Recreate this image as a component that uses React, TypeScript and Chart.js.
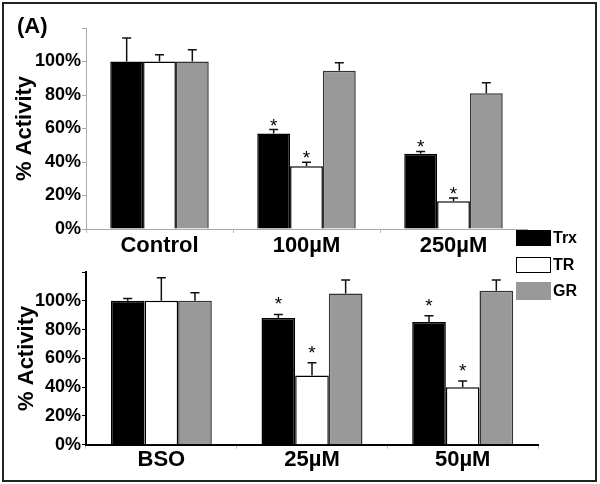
import React, { useEffect, useRef } from 'react';
import { Chart, registerables } from 'chart.js';

Chart.register(...registerables);

const FONT = '"Liberation Sans", Arial, sans-serif';

// Panel 1
const categoriesTop = ['Control', '100\u00B5M', '250\u00B5M'];
const trxTop = [100, 57, 45];
const trxTopErr = [14, 2.4, 1.3];
const trTop = [100, 37.5, 16.5];
const trTopErr = [4, 2.4, 2];
const grTop = [100, 94.5, 81];
const grTopErr = [7, 4.8, 6.3];
const trxTopSig = [false, true, true];
const trTopSig = [false, true, true];
const grTopSig = [false, false, false];

// Panel 2
const categoriesBottom = ['BSO', '25\u00B5M', '50\u00B5M'];
const trxBottom = [100, 88, 85.3];
const trxBottomErr = [1.6, 2.5, 4.3];
const trBottom = [100, 48, 40];
const trBottomErr = [16, 9, 4.3];
const grBottom = [100, 105, 107];
const grBottomErr = [5.5, 9.5, 7.5];
const trxBottomSig = [false, true, true];
const trBottomSig = [false, true, true];
const grBottomSig = [false, false, false];

const yMax = 120;
const yStep = 20;
const seriesNames = ['Trx', 'TR', 'GR'];
const GRAY = '#999999';

const errorBarPlugin = {
  id: 'errbars',
  afterDatasetsDraw(chart: any, _args: any, opts: any) {
    const { ctx } = chart;
    const y = chart.scales.y;
    chart.data.datasets.forEach((ds: any, di: number) => {
      const meta = chart.getDatasetMeta(di);
      const errs = opts.errors[di];
      const sig = opts.sig[di];
      meta.data.forEach((bar: any, i: number) => {
        const v = ds.data[i];
        const top = y.getPixelForValue(v + errs[i]);
        ctx.save();
        ctx.strokeStyle = '#111';
        ctx.lineWidth = 1.5;
        ctx.beginPath();
        ctx.moveTo(bar.x, bar.y);
        ctx.lineTo(bar.x, top);
        ctx.moveTo(bar.x - 4.5, top);
        ctx.lineTo(bar.x + 4.5, top);
        ctx.stroke();
        if (sig[i]) {
          ctx.fillStyle = '#000';
          ctx.font = `19px ${FONT}`;
          ctx.textAlign = 'center';
          ctx.textBaseline = 'alphabetic';
          ctx.fillText('*', bar.x, top - opts.starGap + 10);
        }
        ctx.restore();
      });
    });
  },
};

function makeConfig(p: {
  labels: string[];
  trx: number[];
  tr: number[];
  gr: number[];
  errors: number[][];
  sig: boolean[][];
  padding: any;
  xHeight: number;
  axisColor: string;
  axisWidth: number;
  titlePad: number;
  starGap: number;
  tickPadX: number;
}) {
  return {
    type: 'bar' as const,
    data: {
      labels: p.labels,
      datasets: [
        { label: seriesNames[0], data: p.trx, backgroundColor: '#000', borderColor: '#000', borderWidth: 1.5 },
        { label: seriesNames[1], data: p.tr, backgroundColor: '#fff', borderColor: '#000', borderWidth: 1.5 },
        { label: seriesNames[2], data: p.gr, backgroundColor: GRAY, borderColor: '#333', borderWidth: 1.5 },
      ],
    },
    options: {
      responsive: false,
      animation: false as const,
      layout: { padding: p.padding },
      datasets: { bar: { categoryPercentage: 0.67, barPercentage: 1.0 } },
      plugins: {
        legend: { display: false },
        tooltip: { enabled: false },
        errbars: { errors: p.errors, sig: p.sig, starGap: p.starGap },
      },
      scales: {
        x: {
          border: { display: true, color: p.axisColor, width: p.axisWidth },
          grid: { display: true, drawOnChartArea: false, drawTicks: true, tickLength: 4, color: '#bbb', offset: true },
          ticks: { color: '#000', font: { family: FONT, size: 22, weight: 'bold' }, padding: p.tickPadX, maxRotation: 0 },
          afterFit(axis: any) { axis.height = p.xHeight; },
        },
        y: {
          min: 0,
          max: yMax,
          border: { display: true, color: p.axisColor, width: p.axisWidth },
          grid: { display: true, drawOnChartArea: false, drawTicks: true, tickLength: 4, color: p.axisColor },
          ticks: {
            stepSize: yStep,
            color: '#000',
            padding: 1,
            font: { family: FONT, size: 18, weight: 'bold' },
            callback: (v: any) => (v >= yMax ? '' : `${v}%`),
          },
          title: {
            display: true,
            text: '% Activity',
            color: '#000',
            font: { family: FONT, size: 22, weight: 'bold' },
            padding: { top: p.titlePad, bottom: 0 },
          },
          afterFit(axis: any) { axis.width = 86; },
        },
      },
    },
    plugins: [errorBarPlugin],
  };
}

function Panel(props: { cfg: any; top: number; height: number }) {
  const ref = useRef<HTMLCanvasElement | null>(null);
  useEffect(() => {
    if (!ref.current) return;
    const chart = new Chart(ref.current, props.cfg);
    return () => chart.destroy();
  }, []);
  return (
    <canvas
      ref={ref}
      width={600}
      height={props.height}
      style={{ position: 'absolute', left: 0, top: props.top, width: 600, height: props.height }}
    />
  );
}

export default function App() {
  const topCfg = makeConfig({
    labels: categoriesTop,
    trx: trxTop,
    tr: trTop,
    gr: grTop,
    errors: [trxTopErr, trTopErr, grTopErr],
    sig: [trxTopSig, trTopSig, grTopSig],
    padding: { left: 0, right: 73, top: 28, bottom: 0 },
    xHeight: 31,
    axisColor: '#aaa',
    axisWidth: 1,
    titlePad: 12,
    starGap: 8,
    tickPadX: 0,
  });
  const bottomCfg = makeConfig({
    labels: categoriesBottom,
    trx: trxBottom,
    tr: trBottom,
    gr: grBottom,
    errors: [trxBottomErr, trBottomErr, grBottomErr],
    sig: [trxBottomSig, trBottomSig, grBottomSig],
    padding: { left: 0, right: 62, top: 12, bottom: 0 },
    xHeight: 39.3,
    axisColor: '#000',
    axisWidth: 2,
    titlePad: 14,
    starGap: 14,
    tickPadX: -2,
  });
  const legendBoxes = [
    { top: 230, h: 16, bg: '#000', border: 'none' },
    { top: 257, h: 16, bg: '#fff', border: '1.5px solid #000' },
    { top: 282, h: 18, bg: GRAY, border: 'none' },
  ];
  return (
    <div style={{ position: 'absolute', left: 0, top: 0, width: 600, height: 484, background: '#fff', overflow: 'hidden' }}>
      <div style={{ position: 'absolute', left: 2, top: 2, width: 591, height: 476, border: '2px solid #222' }} />
      <Panel cfg={topCfg} top={0} height={260} />
      <Panel cfg={bottomCfg} top={260} height={224} />
      <div style={{ position: 'absolute', left: 17, top: 15, fontFamily: FONT, fontWeight: 'bold', fontSize: 22, lineHeight: '22px', color: '#000' }}>(A)</div>
      {seriesNames.map((name, i) => (
        <React.Fragment key={name}>
          <div style={{ position: 'absolute', left: 516, top: legendBoxes[i].top, width: 35, height: legendBoxes[i].h, background: legendBoxes[i].bg, border: legendBoxes[i].border, boxSizing: 'border-box' }} />
          <div style={{ position: 'absolute', left: 553, top: legendBoxes[i].top + legendBoxes[i].h / 2 - 9, fontFamily: FONT, fontWeight: 'bold', fontSize: 16, lineHeight: '18px', color: '#000' }}>{name}</div>
        </React.Fragment>
      ))}
    </div>
  );
}
